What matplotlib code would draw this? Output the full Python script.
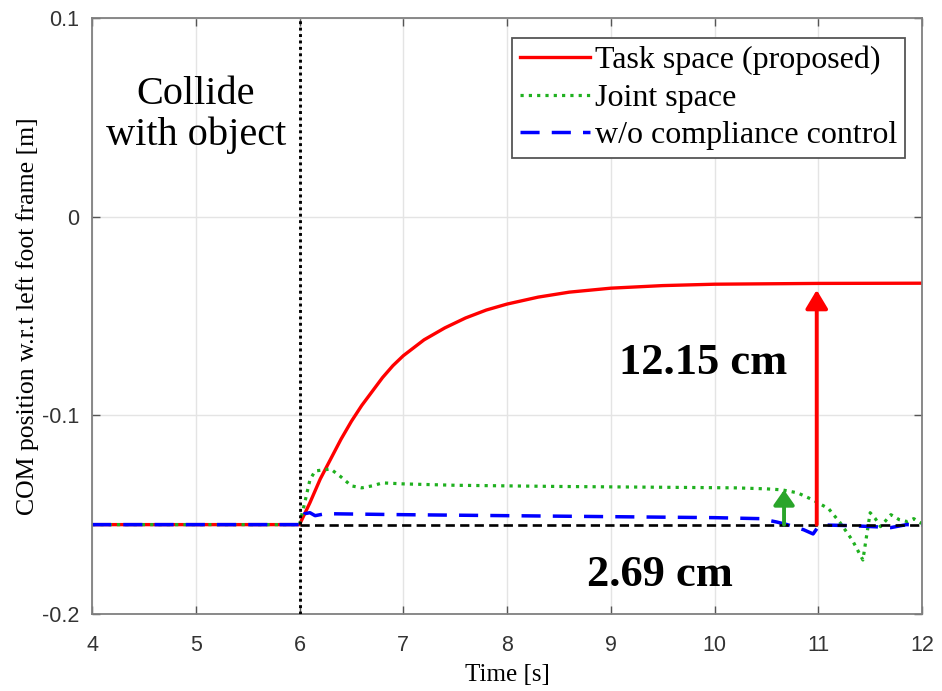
import matplotlib
matplotlib.use('Agg')
import matplotlib.pyplot as plt

plt.rcParams['axes.unicode_minus'] = False

# baseline (initial COM position) and collision time
BASE = -0.155
T_COLLIDE = 6.0

# Task space (proposed)
t_task = [4.0, 6.0, 6.1, 6.2, 6.3, 6.4, 6.5, 6.6, 6.7, 6.8, 6.9, 7.0, 7.2, 7.4,
          7.6, 7.8, 8.0, 8.3, 8.6, 9.0, 9.5, 10.0, 11.0, 12.0]
y_task = [-0.155, -0.155, -0.144, -0.132, -0.122, -0.112, -0.103, -0.095, -0.088,
          -0.081, -0.075, -0.070, -0.062, -0.056, -0.051, -0.047, -0.044, -0.0405,
          -0.038, -0.036, -0.0347, -0.0340, -0.0336, -0.0335]

# Joint space
t_joint = [4.0, 6.0, 6.05, 6.1, 6.15, 6.3, 6.4, 6.5, 6.6, 6.7, 6.8, 7.0, 7.5, 8.5,
           9.5, 10.2, 10.5, 10.65, 10.8, 10.95, 11.1, 11.21, 11.33, 11.43, 11.5,
           11.55, 11.6, 11.7, 11.78, 11.86, 11.92, 12.0]
y_joint = [-0.155, -0.155, -0.144, -0.1325, -0.128, -0.127, -0.131, -0.1355,
           -0.1365, -0.1355, -0.134, -0.1345, -0.1352, -0.1358, -0.1362, -0.1365,
           -0.137, -0.1375, -0.139, -0.1426, -0.147, -0.154, -0.163, -0.1728,
           -0.149, -0.152, -0.156, -0.150, -0.1525, -0.1535, -0.152, -0.1545]

# w/o compliance control
t_none = [4.0, 6.0, 6.05, 6.1, 6.15, 6.25, 7.0, 8.0, 9.0, 10.0, 10.44, 10.6, 10.7,
          10.86, 10.95, 11.0, 11.05, 11.3, 11.6, 11.7, 11.85, 12.0]
y_none = [-0.155, -0.155, -0.1495, -0.149, -0.1505, -0.1495, -0.150, -0.1505,
          -0.151, -0.1515, -0.152, -0.1537, -0.155, -0.1576, -0.1597, -0.156,
          -0.1552, -0.1555, -0.1562, -0.1565, -0.155, -0.1552]

# annotation arrows (x, top)
red_arrow = (10.985, -0.0369)
green_arrow = (10.67, -0.1375)

x_ticks = [4, 5, 6, 7, 8, 9, 10, 11, 12]
y_ticks = [-0.2, -0.1, 0, 0.1]
y_tick_labels = ['-0.2', '-0.1', '0', '0.1']

serif = 'Liberation Serif'
sans = 'Liberation Sans'

fig = plt.figure(figsize=(9.42, 6.91), dpi=100)
ax = fig.add_axes([0.0977, 0.1114, 0.8811, 0.8626])

ax.plot(t_task, y_task, color='#ff0000', lw=2.4, label='Task space (proposed)')
ax.plot(t_joint, y_joint, color='#1fb01f', lw=2.3, linestyle=(0, (1, 1.6)),
        label='Joint space')
ax.plot(t_none, y_none, color='#0000ff', lw=2.5, linestyle=(0, (5.5, 3.5)),
        label='w/o compliance control')

ax.plot([T_COLLIDE, 12], [BASE, BASE], color='black', lw=1.9,
        linestyle=(0, (3.5, 2)), zorder=3)
ax.axvline(T_COLLIDE, color='black', lw=2.1, linestyle=(0, (1, 1.2)), zorder=3)

ax.annotate('', xy=red_arrow, xytext=(red_arrow[0], BASE),
            arrowprops=dict(arrowstyle='-|>,head_width=0.45,head_length=0.75',
                            color='#ff0000', lw=2.8, shrinkA=0, shrinkB=0,
                            mutation_scale=15), zorder=5)
ax.annotate('', xy=green_arrow, xytext=(green_arrow[0], BASE),
            arrowprops=dict(arrowstyle='-|>,head_width=0.42,head_length=0.6',
                            color='#2aa52a', lw=2.8, shrinkA=0, shrinkB=0,
                            mutation_scale=15), zorder=5)

ax.text(9.89, -0.0736, '12.15 cm', family=serif, fontsize=32, fontweight='bold',
        ha='center', va='center')
ax.text(9.47, -0.1803, '2.69 cm', family=serif, fontsize=32, fontweight='bold',
        ha='center', va='center')
ax.text(5.0, 0.051, 'Collide\nwith object', family=serif, fontsize=29,
        ha='center', va='center', linespacing=1.12)

ax.set_xlim(4, 12)
ax.set_ylim(-0.2, 0.1)
ax.set_xticks(x_ticks)
ax.set_yticks(y_ticks)
ax.set_yticklabels(y_tick_labels)
for lab in ax.get_xticklabels() + ax.get_yticklabels():
    lab.set_family(sans)
    lab.set_fontsize(15.5)
    lab.set_color('#333333')
ax.tick_params(direction='in', length=6, width=1, color='#555555',
               top=True, right=True)
ax.tick_params(axis='x', pad=15)
ax.tick_params(axis='y', pad=9)
ax.grid(True, color='#e4e4e4', lw=1)
ax.set_axisbelow(True)
for s in ax.spines.values():
    s.set_color('#808080')
    s.set_linewidth(1.3)

ax.set_xlabel('Time [s]', family=serif, fontsize=18, labelpad=6)
ax.set_ylabel('COM position w.r.t left foot frame [m]', family=serif,
              fontsize=18.5, labelpad=2)

leg = ax.legend(loc='upper right', bbox_to_anchor=(0.9795, 0.9664),
                borderaxespad=0, prop={'family': serif, 'size': 23},
                labelspacing=0.25, handlelength=2.2, handletextpad=0.15,
                borderpad=0.25, fancybox=False, framealpha=1,
                edgecolor='#555555')
leg.get_frame().set_linewidth(1.3)

fig.savefig('out.png', dpi=100)
